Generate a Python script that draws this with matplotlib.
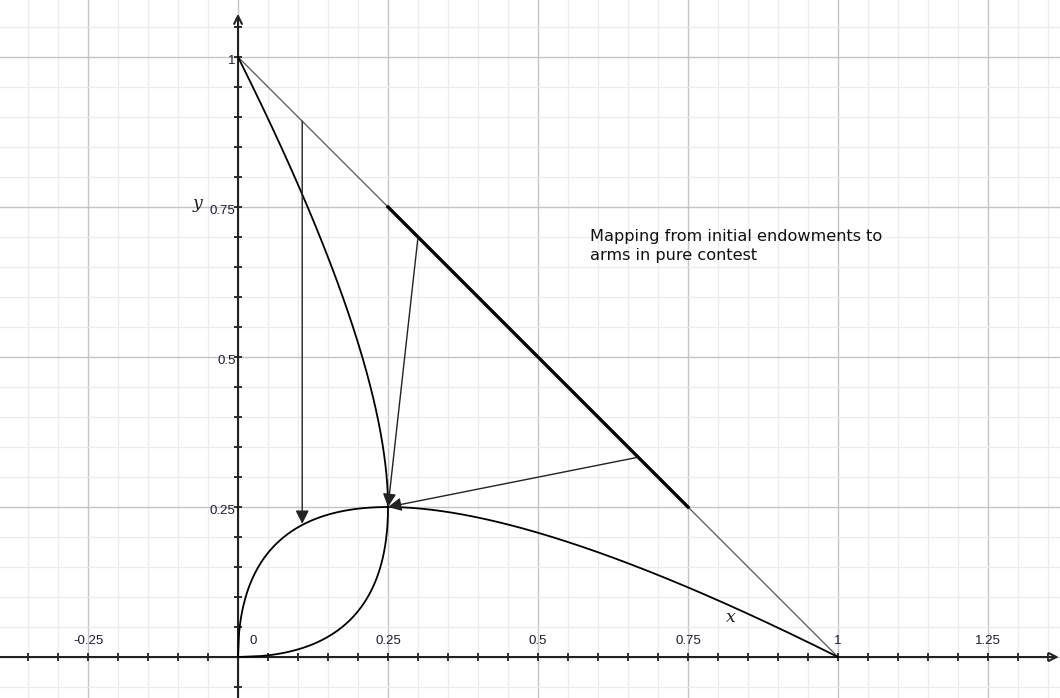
import numpy as np
import matplotlib.pyplot as plt

# 가격선 (x + y = 1) 과 굵은 구간
budget_x = [0, 1]
budget_y = [1, 0]
bold_x = [0.25, 0.75]
bold_y = [0.75, 0.25]

# 화살표 (시작점 -> 끝점)
arrow_start = [(0.107, 0.893), (0.30, 0.70), (0.667, 0.333)]
arrow_end = [(0.107, 0.222), (0.25, 0.25), (0.25, 0.25)]

# 눈금 라벨
x_ticks = [-0.25, 0, 0.25, 0.5, 0.75, 1, 1.25]
x_tick_labels = ["-0.25", "0", "0.25", "0.5", "0.75", "1", "1.25"]
y_ticks = [0.25, 0.5, 0.75, 1]
y_tick_labels = ["0.25", "0.5", "0.75", "1"]

title_text = "Mapping from initial endowments to\narms in pure contest"


# 순수 경쟁에서의 무장 수준: a = sqrt(e) - e
def arms(e):
    return np.sqrt(e) - e


fig = plt.figure(figsize=(10.6, 6.98), dpi=100)
ax = fig.add_axes([0, 0, 1, 1])
ax.set_xlim(-0.3967, 1.37)
ax.set_ylim(-0.0683, 1.095)
ax.axis("off")

# 격자
for v in np.arange(-0.35, 1.40, 0.05):
    major = abs(v / 0.25 - round(v / 0.25)) < 1e-6
    ax.axvline(v, color="#c4c4c4" if major else "#ebebeb", lw=1.0 if major else 0.9, zorder=0)
for v in np.arange(-0.05, 1.10, 0.05):
    major = abs(v / 0.25 - round(v / 0.25)) < 1e-6
    ax.axhline(v, color="#c4c4c4" if major else "#ebebeb", lw=1.0 if major else 0.9, zorder=0)

# 좌표축 (화살표 포함)
ax.annotate("", xy=(1.368, 0), xytext=(-0.3967, 0),
            arrowprops=dict(arrowstyle="->", color="#222222", lw=1.5, shrinkA=0, shrinkB=0, mutation_scale=14))
ax.annotate("", xy=(0, 1.072), xytext=(0, -0.0683),
            arrowprops=dict(arrowstyle="->", color="#222222", lw=1.5, shrinkA=0, shrinkB=0, mutation_scale=14))

# 축 눈금
tx = np.arange(-0.35, 1.36, 0.05)
ax.plot(tx, np.zeros_like(tx), ls="none", marker="|", ms=6, mew=1.3, color="#222222")
ty = np.arange(-0.05, 1.06, 0.05)
ax.plot(np.zeros_like(ty), ty, ls="none", marker="_", ms=6, mew=1.3, color="#222222")

for v, lab in zip(x_ticks, x_tick_labels):
    dx = 0.025 if v == 0 else 0
    ax.text(v + dx, 0.016, lab, ha="center", va="bottom", fontsize=9.5,
            family="Liberation Sans", color="#1c1c2c")
for v, lab in zip(y_ticks, y_tick_labels):
    ax.text(-0.004, v - 0.007, lab, ha="right", va="center", fontsize=9.5,
            family="Liberation Sans", color="#1c1c2c")

ax.text(0.813, 0.058, "x", fontsize=12.5, style="italic", family="DejaVu Serif", color="#222222")
ax.text(-0.075, 0.748, "y", fontsize=12.5, style="italic", family="DejaVu Serif", color="#222222")

# 예산선
ax.plot(budget_x, budget_y, color="#555555", lw=0.9, zorder=3)
ax.plot(bold_x, bold_y, color="black", lw=2.4, zorder=4)

# 무장 곡선 (두 방향)
e = np.linspace(0, 1, 600)
ax.plot(e, arms(e), color="black", lw=1.3, zorder=4)
ax.plot(arms(e), e, color="black", lw=1.3, zorder=4)

# 매핑 화살표
for (x0, y0), (x1, y1) in zip(arrow_start, arrow_end):
    ax.annotate("", xy=(x1, y1), xytext=(x0, y0),
                arrowprops=dict(arrowstyle="-|>", color="#222222", lw=1.0,
                                shrinkA=0, shrinkB=0, mutation_scale=20), zorder=5)

ax.text(0.587, 0.685, title_text, fontsize=11.6, family="DejaVu Sans", color="#111111",
        va="center", linespacing=1.3)

fig.savefig("out.png", dpi=100)
